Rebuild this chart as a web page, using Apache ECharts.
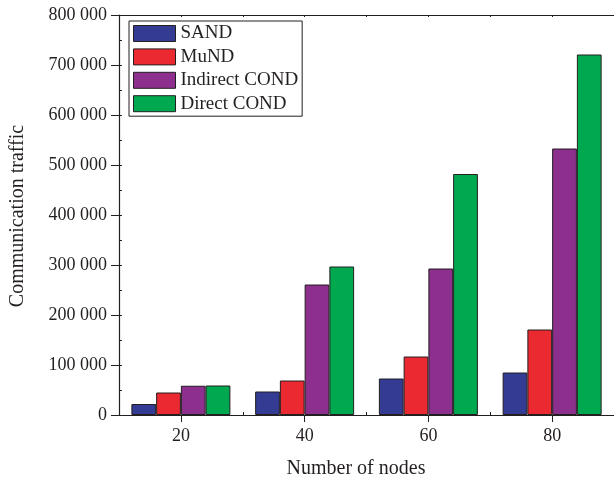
<!DOCTYPE html>
<html>
<head>
<meta charset="utf-8">
<style>
  html, body { margin: 0; padding: 0; background: #fff; }
  #chart { width: 614px; height: 481px; }
</style>
<script src="https://cdn.jsdelivr.net/npm/echarts@6/dist/echarts.min.js"></script>
</head>
<body>
<div id="chart"></div>
<script>
// Node counts on the x axis
const nodeCounts = ['20', '40', '60', '80'];

// Communication traffic per protocol
const sandTraffic = [22000, 47000, 73000, 85000];
const mundTraffic = [45000, 69000, 117000, 171000];
const indirectCondTraffic = [58500, 261000, 293000, 533000];
const directCondTraffic = [59000, 297000, 482000, 721000];

const seriesNames = ['SAND', 'MuND', 'Indirect COND', 'Direct COND'];
const seriesColors = ['#333b93', '#eb2930', '#8d2f8c', '#00a94f'];

// Y axis range
const yMin = 0;
const yMax = 800000;
const yStep = 100000;

const FONT = '"Liberation Serif", "Times New Roman", serif';
const INK = '#231f20';

function withSpaces(v) {
  return String(v).replace(/\B(?=(\d{3})+(?!\d))/g, ' ');
}

const chart = echarts.init(document.getElementById('chart'), null, { renderer: 'canvas' });

const seriesData = [sandTraffic, mundTraffic, indirectCondTraffic, directCondTraffic];

const plainAxis = {
  type: 'category',
  data: nodeCounts,
  axisLabel: { show: false },
  splitLine: { show: false },
  axisLine: { show: false }
};

chart.setOption({
  animation: false,
  backgroundColor: '#ffffff',
  textStyle: { fontFamily: FONT, color: INK },
  grid: { left: 119, right: -2, top: 15, bottom: 66, containLabel: false },
  legend: {
    orient: 'vertical',
    left: 129,
    top: 21,
    padding: [3, 4, 3, 4],
    itemGap: 4.4,
    itemWidth: 42,
    itemHeight: 16,
    icon: 'rect',
    borderColor: INK,
    borderWidth: 1,
    textStyle: { fontFamily: FONT, fontSize: 19, color: INK },
    itemStyle: { borderColor: INK, borderWidth: 1 },
    data: seriesNames
  },
  xAxis: [
    {
      type: 'category',
      data: nodeCounts,
      position: 'bottom',
      axisLine: { show: true, lineStyle: { color: INK, width: 1.2 } },
      axisTick: { show: true, alignWithLabel: true, length: 7, lineStyle: { color: INK } },
      axisLabel: { fontFamily: FONT, fontSize: 18, color: INK, margin: 12 },
      splitLine: { show: false }
    },
    Object.assign({}, plainAxis, {
      position: 'bottom',
      axisTick: { show: true, inside: true, length: 3, lineStyle: { color: INK } }
    }),
    Object.assign({}, plainAxis, {
      position: 'top',
      axisLine: { show: true, lineStyle: { color: INK, width: 1.2 } },
      axisTick: { show: true, inside: true, length: 2, lineStyle: { color: INK } }
    }),
    Object.assign({}, plainAxis, {
      position: 'top',
      axisTick: { show: true, inside: true, alignWithLabel: true, length: 2, lineStyle: { color: INK } }
    })
  ],
  yAxis: [
    {
      type: 'value',
      min: yMin,
      max: yMax,
      interval: yStep,
      position: 'left',
      axisLine: { show: true, lineStyle: { color: INK, width: 1.2 } },
      axisTick: { show: true, length: 8, lineStyle: { color: INK } },
      axisLabel: {
        fontFamily: FONT, fontSize: 18, color: INK, margin: 12,
        formatter: withSpaces
      },
      splitLine: { show: false }
    },
    {
      type: 'value',
      min: yMin,
      max: yMax,
      interval: yStep / 2,
      position: 'left',
      axisLine: { show: false },
      axisTick: { show: true, inside: true, length: 3, lineStyle: { color: INK } },
      axisLabel: { show: false },
      splitLine: { show: false }
    }
  ],
  graphic: [
    {
      type: 'text',
      x: 18,
      y: 216,
      rotation: Math.PI / 2,
      style: {
        text: 'Communication traffic',
        fontFamily: FONT,
        fontSize: 20,
        fill: INK,
        align: 'center',
        verticalAlign: 'middle'
      }
    },
    {
      type: 'text',
      x: 356,
      y: 469,
      style: {
        text: 'Number of nodes',
        fontFamily: FONT,
        fontSize: 20,
        fill: INK,
        align: 'center',
        verticalAlign: 'middle'
      }
    }
  ],
  series: seriesNames.map((name, i) => ({
    name: name,
    type: 'bar',
    xAxisIndex: 0,
    yAxisIndex: 0,
    data: seriesData[i],
    barGap: '0%',
    barCategoryGap: '20%',
    itemStyle: { color: seriesColors[i], borderColor: INK, borderWidth: 1 }
  }))
});
</script>
</body>
</html>
